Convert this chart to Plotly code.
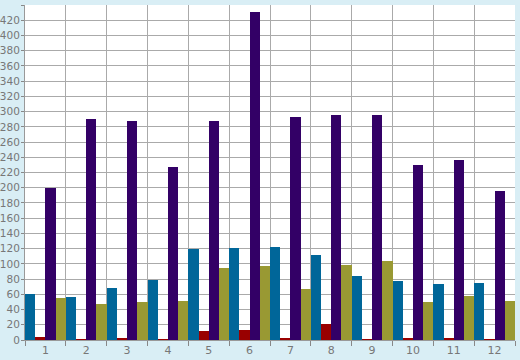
import plotly.graph_objects as go

categories = [str(i) for i in range(1, 13)]
series_blue = [60, 56, 68, 79, 120, 121, 122, 112, 84, 78, 74, 75]
series_red = [4, 1, 3, 1, 12, 13, 1.5, 21, 0.7, 1.5, 1.5, 0.7]
series_purple = [200, 290, 288, 227, 288, 431, 293, 296, 296, 230, 236, 196]
series_olive = [55, 47, 50, 51, 95, 97, 67, 99, 104, 50, 58, 51]
y_ticks = list(range(0, 441, 20))

colors = ["#006699", "#990000", "#330066", "#999933"]
names = ["Series 1", "Series 2", "Series 3", "Series 4"]

fig = go.Figure()
for name, vals, col in zip(names, [series_blue, series_red, series_purple, series_olive], colors):
    fig.add_trace(go.Bar(x=categories, y=vals, name=name, marker=dict(color=col, line=dict(width=0))))

font = dict(family="DejaVu Sans", size=11, color="#777777")
yfont = dict(family="DejaVu Sans", size=10.5, color="#777777")
fig.update_layout(
    width=520, height=360,
    margin=dict(l=25, r=5, t=5, b=20),
    paper_bgcolor="#d9eef5",
    plot_bgcolor="#ffffff",
    barmode="group", bargap=0, bargroupgap=0,
    showlegend=False,
    font=font,
    xaxis=dict(type="category", tickson="boundaries", ticks="outside", ticklen=5,
               tickcolor="#888888", showgrid=True, gridcolor="#aaaaaa", gridwidth=1,
               showline=True, linecolor="#999999", mirror=False, tickfont=font,
               automargin=False),
    yaxis=dict(range=[0, 440], tickmode="array", tickvals=y_ticks,
               ticktext=[str(v) for v in y_ticks],
               ticks="outside", ticklen=3, tickcolor="#888888",
               showgrid=True, gridcolor="#aaaaaa", gridwidth=1, zeroline=False,
               showline=True, linecolor="#999999", tickfont=yfont, automargin=False,
               ticklabelstandoff=-1),
)
fig.write_html("out.html", config={"displayModeBar": False},
               post_script="document.body.style.margin='0px';document.body.style.background='#d9eef5';")
